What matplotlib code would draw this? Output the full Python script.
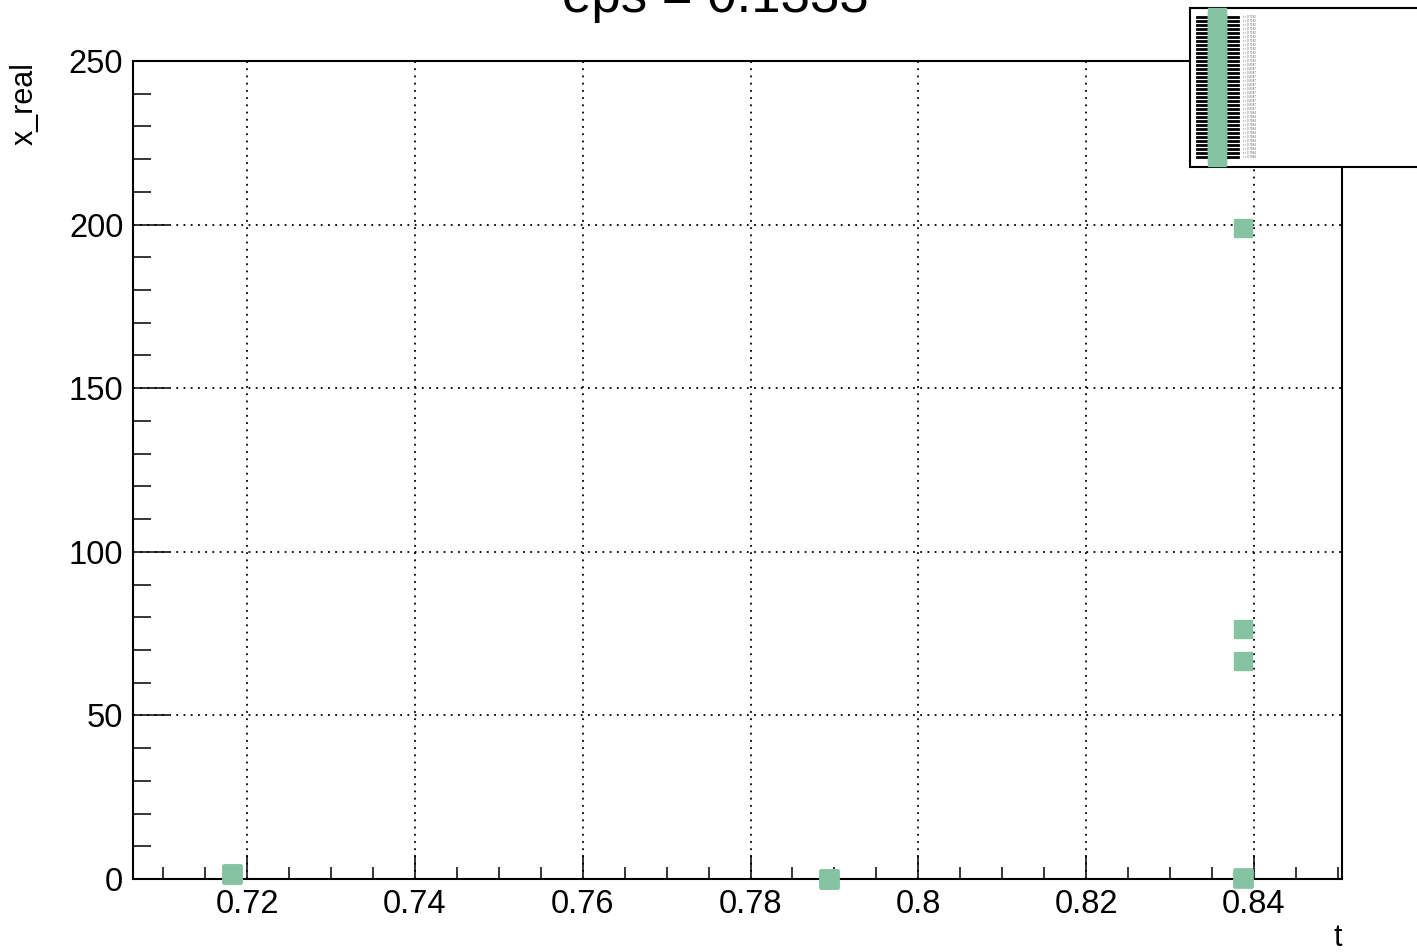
import matplotlib
matplotlib.use('Agg')
import matplotlib.pyplot as plt
from matplotlib.ticker import MultipleLocator

plt.rcParams['font.family'] = ['Liberation Sans', 'DejaVu Sans']

# ---- data ----
# one graph per run, legend label is its t value
t_values = [0.7182] * 12 + [0.8387] * 12 + [0.7894] * 12
x_real = ([1.5] * 12
          + [0.3, 0.3, 66.6, 76.4, 199.0, 0.3, 0.3, 0.3, 0.3, 0.3, 0.3, 0.3]
          + [0.0] * 12)
labels = ['t = %.4f' % t for t in t_values]

title = 'eps = 0.1333'
green = '#86c3a3'

fig = plt.figure(figsize=(14.17, 9.52), dpi=100)
ax = fig.add_axes([133 / 1417, 1 - 879 / 952, (1342 - 133) / 1417, (879 - 61) / 952])

for t, x, lab in zip(t_values, x_real, labels):
    ax.plot([t], [x], ls='-', lw=2, color='black', marker='s', ms=13,
            mfc=green, mec=green, label=lab, clip_on=False, zorder=5)

ax.set_xlim(0.7064, 0.8505)
ax.set_ylim(0, 250)

ax.xaxis.set_major_locator(MultipleLocator(0.02))
ax.xaxis.set_minor_locator(MultipleLocator(0.005))
ax.yaxis.set_major_locator(MultipleLocator(50))
ax.yaxis.set_minor_locator(MultipleLocator(10))
ax.set_xticks([0.72, 0.74, 0.76, 0.78, 0.80, 0.82, 0.84])
ax.set_xticklabels(['0.72', '0.74', '0.76', '0.78', '0.8', '0.82', '0.84'])

ax.tick_params(axis='both', which='both', direction='in', top=False, right=False,
               width=1.1, labelsize=23.5, pad=7)
ax.tick_params(axis='x', which='major', length=17.5)
ax.tick_params(axis='x', which='minor', length=8.8)
ax.tick_params(axis='y', which='major', length=26)
ax.tick_params(axis='y', which='minor', length=13)

ax.grid(True, which='major', color='black', lw=1.3, ls=(0, (1, 3)))
for s in ax.spines.values():
    s.set_linewidth(1.5)

fig.text(0.5046, 1 - 12 / 952, title, ha='center', va='baseline', fontsize=38)
fig.text(25 / 1417, 1 - 62 / 952, 'x_real', rotation=90, ha='center', va='top',
         fontsize=22)
fig.text(1342 / 1417, 1 - 923 / 952, 't', ha='right', va='top', fontsize=22)

# legend box: x 1190..off the edge, y 8..160 px
leg = ax.legend(loc='upper left',
                bbox_to_anchor=(1190 / 1417, 1 - 160 / 952, 0.2, 152 / 952),
                bbox_transform=fig.transFigure, mode='expand', fontsize=2.05,
                labelspacing=0.0, handlelength=14.1, handletextpad=1.75,
                borderpad=2.6, borderaxespad=0, fancybox=False, framealpha=1,
                edgecolor='black', numpoints=1)
leg.get_frame().set_linewidth(1.5)
for txt in leg.get_texts():
    txt.set_color('#555555')

fig.savefig('out.png', dpi=100)
